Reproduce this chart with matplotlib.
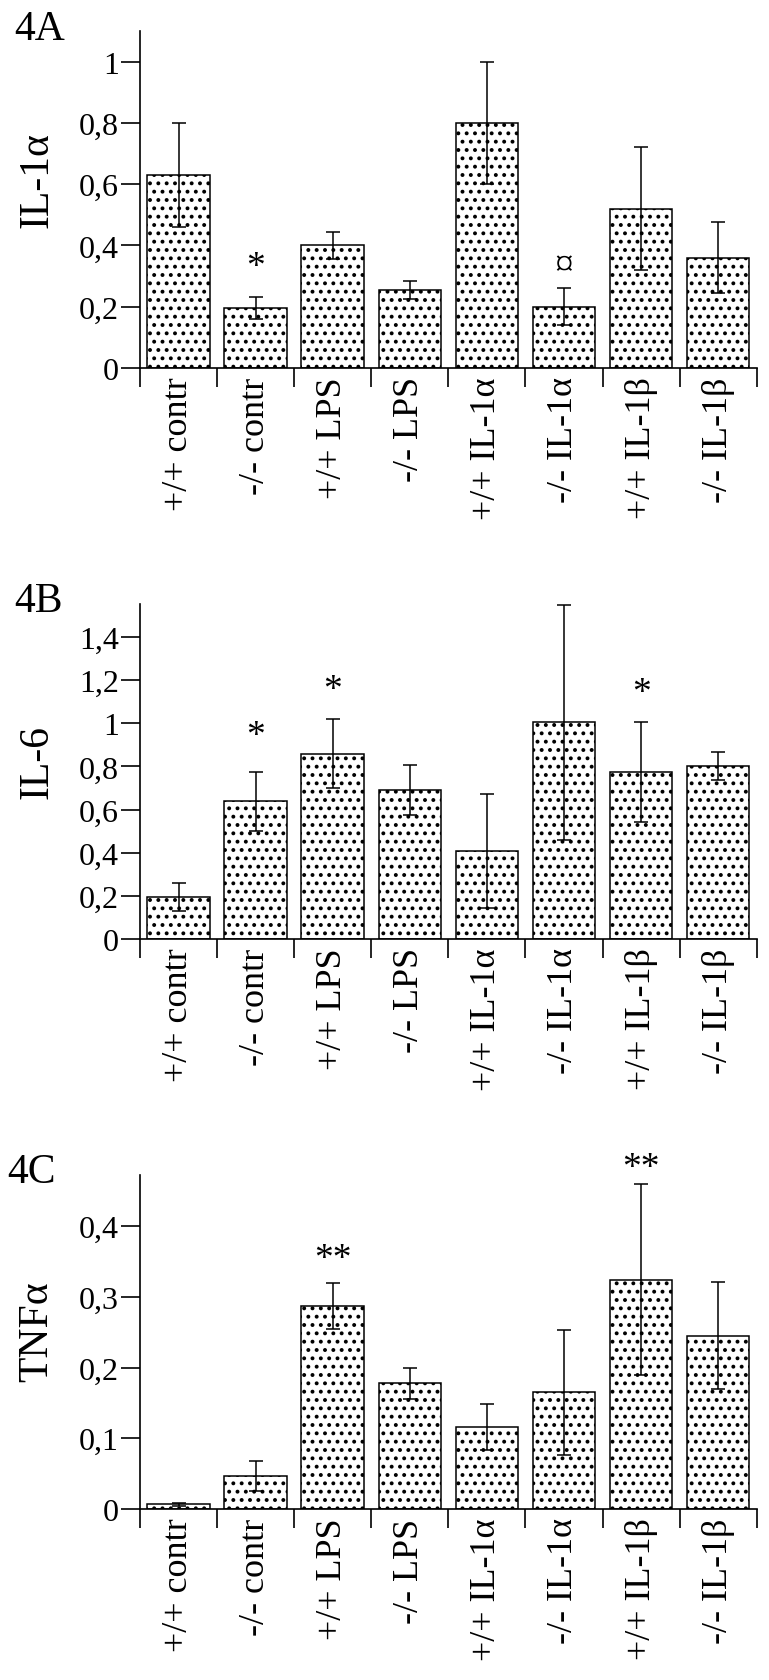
import matplotlib.pyplot as plt
import numpy as np

plt.rcParams['font.family'] = ['Liberation Serif', 'DejaVu Serif']
plt.rcParams['hatch.linewidth'] = 1.6

categories = ["+/+ contr", "-/- contr", "+/+ LPS", "-/- LPS",
              "+/+ IL-1α", "-/- IL-1α", "+/+ IL-1β", "-/- IL-1β"]

# 4A: IL-1alpha
il1a_mean = [0.63, 0.195, 0.40, 0.255, 0.80, 0.20, 0.52, 0.36]
il1a_err = [0.17, 0.036, 0.043, 0.03, 0.20, 0.06, 0.20, 0.115]
il1a_marks = [("*", 1, 0.33), ("¤", 5, 0.334)]

# 4B: IL-6
il6_mean = [0.195, 0.638, 0.859, 0.691, 0.407, 1.004, 0.776, 0.803]
il6_err = [0.065, 0.138, 0.16, 0.116, 0.265, 0.545, 0.232, 0.064]
il6_marks = [("*", 1, 0.94), ("*", 2, 1.157), ("*", 6, 1.141)]

# 4C: TNFalpha
tnf_mean = [0.007, 0.0465, 0.287, 0.178, 0.116, 0.165, 0.324, 0.245]
tnf_err = [0.002, 0.021, 0.032, 0.022, 0.033, 0.088, 0.135, 0.076]
tnf_marks = [("**", 2, 0.353), ("**", 6, 0.482)]

panels = [
    # name, ylabel, means, errs, marks, yticks, ylim top, axes rect, label pos, ylabel y
    ("4A", "IL-1α", il1a_mean, il1a_err, il1a_marks, np.arange(0, 1.01, 0.2), 1.10,
     [0.182, 0.7805, 0.802, 0.2005], (0.019, 0.976), 0.56),
    ("4B", "IL-6", il6_mean, il6_err, il6_marks, np.arange(0, 1.41, 0.2), 1.553,
     [0.182, 0.4408, 0.802, 0.1993], (0.019, 0.636), 0.53),
    ("4C", "TNFα", tnf_mean, tnf_err, tnf_marks, np.arange(0, 0.41, 0.1), 0.472,
     [0.182, 0.1017, 0.802, 0.1987], (0.009, 0.2962), 0.533),
]


def fmt(v):
    s = f"{v:.1f}".rstrip('0').rstrip('.')
    return s.replace('.', ',')


fig = plt.figure(figsize=(7.69, 16.81), dpi=100)
x = np.arange(len(categories))

for name, ylab, means, errs, marks, yticks, ytop, rect, lpos, ly in panels:
    ax = fig.add_axes(rect)
    ax.bar(x, means, width=0.81, color='white', edgecolor='black', hatch='..',
           linewidth=1.1, yerr=errs, capsize=5,
           error_kw=dict(elinewidth=1.1, capthick=1.1, ecolor='black'))
    ax.set_xlim(-0.5, 7.5)
    ax.set_ylim(0, ytop)

    ax.spines['top'].set_visible(False)
    ax.spines['right'].set_visible(False)
    ax.spines['left'].set_linewidth(1.2)
    ax.spines['bottom'].set_linewidth(1.2)

    ax.set_yticks(yticks)
    ax.set_yticklabels([fmt(v) for v in yticks])
    ax.tick_params(axis='y', direction='out', length=14, width=1.2, pad=1, labelsize=23)

    ax.set_xticks(np.arange(-0.5, 8, 1))
    ax.set_xticklabels([])
    ax.set_xticks(x, minor=True)
    ax.set_xticklabels(categories, minor=True, rotation=90)
    ax.tick_params(axis='x', which='major', direction='out', length=14, width=1.2)
    ax.tick_params(axis='x', which='minor', length=0, pad=6, labelsize=26)

    ax.set_ylabel(ylab, fontsize=30)
    ax.yaxis.set_label_coords(-0.135, ly)

    for txt, i, yv in marks:
        ax.text(i, yv, txt, ha='center', va='center', fontsize=27, clip_on=False)

    fig.text(lpos[0], lpos[1], name, fontsize=30, ha='left', va='baseline')

fig.savefig("out.png", dpi=100)
